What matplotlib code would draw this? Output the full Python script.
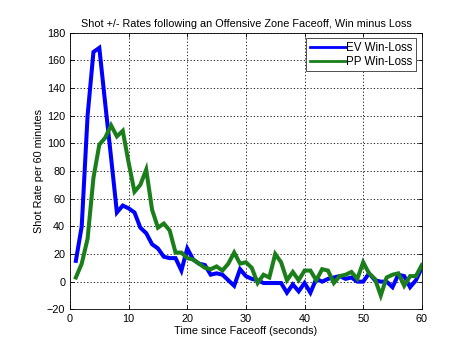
import matplotlib
matplotlib.use("Agg")
import matplotlib.pyplot as plt

t = list(range(1, 61))
ev = [15, 40, 120, 166, 169, 129, 90, 50, 55, 53,
      50, 39, 35, 27, 24, 18, 17, 17, 8, 24,
      16, 13, 12, 5, 6, 5, 1, -3, 9, 4,
      2, 1, -1, -1, -1, -1, -8, -2, -7, -1,
      -8, 2, 0, 2, 3, 4, 2, 3, 0, 0,
      6, 1, 0, 0, -4, 5, 4, -4, 1, 10]
pp = [3, 13, 31, 75, 99, 104, 113, 105, 109, 86,
      65, 70, 81, 52, 39, 42, 37, 21, 21, 17,
      16, 13, 10, 9, 11, 8, 13, 21, 13, 14,
      10, -1, 5, 3, 20, 14, 1, 7, 1, 8,
      8, 1, 9, 8, -1, 4, 5, 7, 2, 14,
      6, 2, -10, 3, 5, 6, -3, 4, 4, 12]

title = "Shot +/- Rates following an Offensive Zone Faceoff, Win minus Loss"
xlabel = "Time since Faceoff (seconds)"
ylabel = "Shot Rate per 60 minutes"
labels = ["EV Win-Loss", "PP Win-Loss"]

plt.rcParams['font.family'] = ['Liberation Sans', 'DejaVu Sans']
fig = plt.figure(figsize=(4.62, 3.51), dpi=100)
ax = fig.add_axes([0.1515, 0.1188, 0.7615, 0.7882])
ax.plot(t, ev, color='#0000ff', lw=2.9, label=labels[0], solid_joinstyle='miter')
ax.plot(t, pp, color='#1a7f1a', lw=2.9, label=labels[1], solid_joinstyle='miter')
ax.set_xlim(0, 60)
ax.set_ylim(-20, 180)
ax.set_xticks(range(0, 61, 10))
ax.set_yticks(range(-20, 181, 20))
ax.grid(True, color='black', linestyle=(0, (1.5, 2.5)), lw=0.6)
ax.tick_params(direction='in', top=True, right=True, labelsize=7.8, length=3, width=0.6)
for s in ax.spines.values():
    s.set_linewidth(0.6)
ax.set_title(title, fontsize=7.8, pad=4)
ax.set_xlabel(xlabel, fontsize=7.8, labelpad=1)
ax.set_ylabel(ylabel, fontsize=7.8, labelpad=2)
leg = ax.legend(loc='upper right', fontsize=8.3, fancybox=False, framealpha=1,
                edgecolor='#333333', handlelength=3.1, borderaxespad=0.5,
                handletextpad=0.05, borderpad=0.3, labelspacing=0.15)
leg.get_frame().set_linewidth(0.6)
for ln in leg.get_lines():
    ln.set_linewidth(2.0)
fig.savefig("out.png", dpi=100, facecolor='white')
